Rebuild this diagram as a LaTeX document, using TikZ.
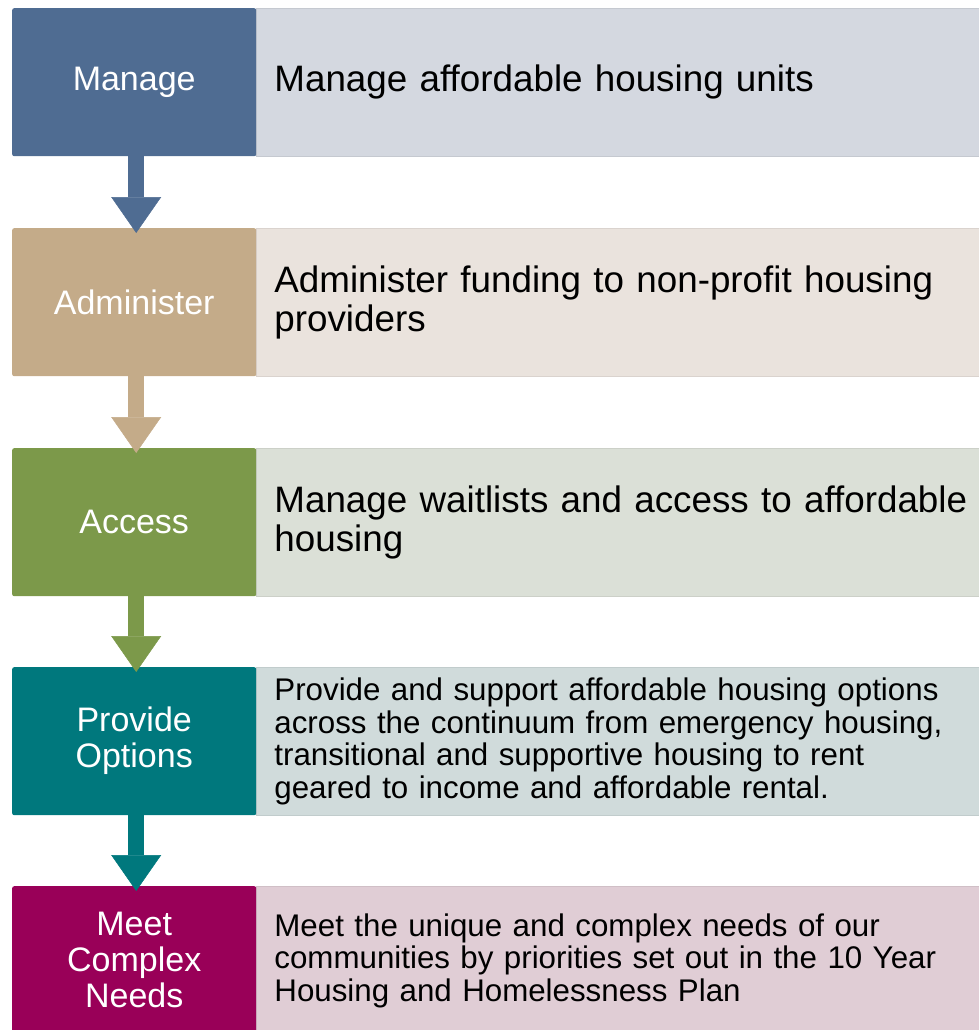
\documentclass[tikz,border=0pt]{standalone}
\usepackage{fontspec}
\setmainfont{Liberation Sans}
\usetikzlibrary{arrows.meta}
\definecolor{c1d}{HTML}{4F6C92}
\definecolor{c1l}{HTML}{D4D8E0}
\definecolor{c2d}{HTML}{C4AB89}
\definecolor{c2l}{HTML}{EAE3DD}
\definecolor{c3d}{HTML}{7C994A}
\definecolor{c3l}{HTML}{DBE0D7}
\definecolor{c4d}{HTML}{00787D}
\definecolor{c4l}{HTML}{D0DBDB}
\definecolor{c5d}{HTML}{990058}
\definecolor{c5l}{HTML}{E0CDD5}
\begin{document}
\begin{tikzpicture}[x=1pt,y=-1pt,
  lbox/.style={fill=#1, text=white, minimum width=244pt, minimum height=148pt,
    inner sep=0pt, rounded corners=2pt, align=center,
    font=\fontsize{34}{36}\selectfont, anchor=north west},
  rbox/.style={fill=#1, draw=#1!93!black, line width=0.8pt, minimum height=148pt,
    text width=800pt, inner xsep=18pt, inner ysep=0pt, align=left,
    anchor=north west, text=black},
  big/.style={font=\fontsize{36.8}{39}\selectfont},
  small/.style={font=\fontsize{31.3}{32.5}\selectfont},
  flow/.style={line width=16pt, draw=#1,
    -{Triangle[width=50pt,length=36pt,line width=0.5pt]}}
]
\useasboundingbox (0,0) rectangle (979,1030);

\node[rbox=c1l, big] (t1) at (256,8) {Manage affordable housing units};
\node[rbox=c2l, big] (t2) at (256,228) {Administer funding to non-profit housing\\providers};
\node[rbox=c3l, big] (t3) at (256,448) {Manage waitlists and access to affordable\\housing};
\node[rbox=c4l, small] (t4) at (256,667) {Provide and support affordable housing options\\across the continuum from emergency housing,\\transitional and supportive housing to rent\\geared to income and affordable rental.};
\node[rbox=c5l, small] (t5) at (256,886) {Meet the unique and complex needs of our\\communities by priorities set out in the 10 Year\\Housing and Homelessness Plan};

\node[lbox=c1d] (m1) at (12,8) {Manage};
\node[lbox=c2d] (m2) at (12,228) {Administer};
\node[lbox=c3d] (m3) at (12,448) {Access};
\node[lbox=c4d] (m4) at (12,667) {Provide\\Options};
\node[lbox=c5d] (m5) at (12,886) {Meet\\Complex\\Needs};

\draw[flow=c1d] ([xshift=2pt]m1.south) -- ([xshift=2pt,yshift=-5pt]m2.north);
\draw[flow=c2d] ([xshift=2pt]m2.south) -- ([xshift=2pt,yshift=-5pt]m3.north);
\draw[flow=c3d] ([xshift=2pt]m3.south) -- ([xshift=2pt,yshift=-5pt]m4.north);
\draw[flow=c4d] ([xshift=2pt]m4.south) -- ([xshift=2pt,yshift=-5pt]m5.north);
\end{tikzpicture}
\end{document}
